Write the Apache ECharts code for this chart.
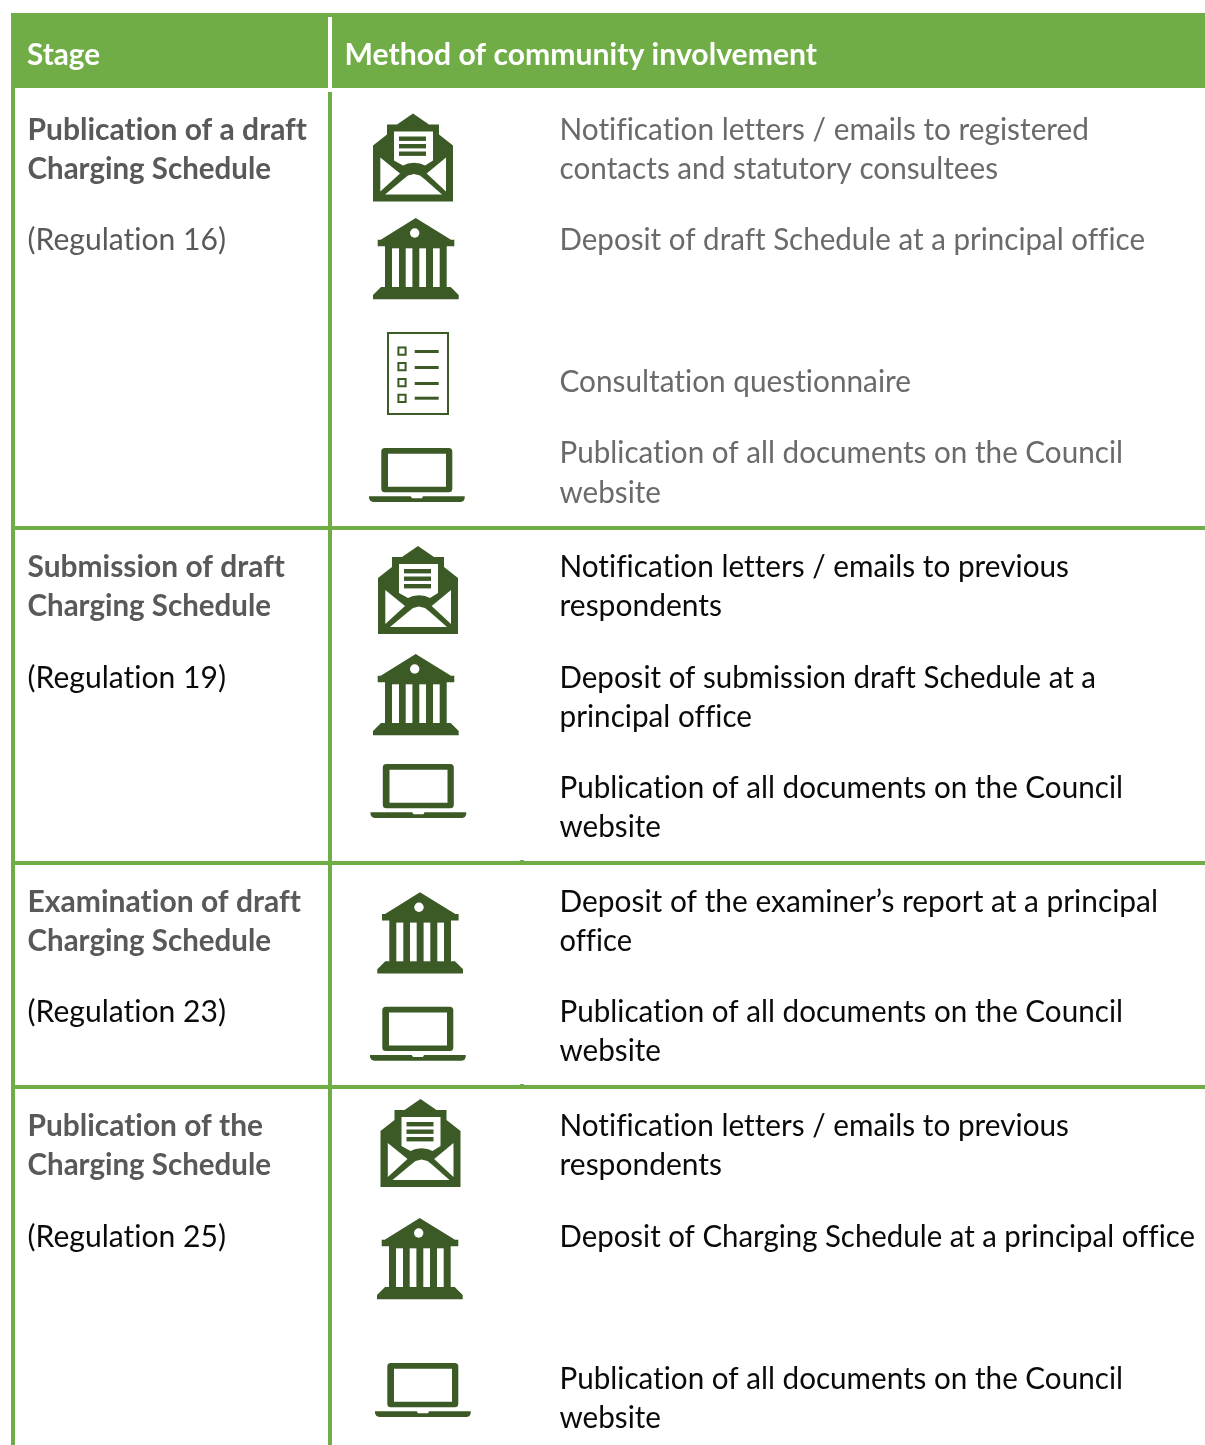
<!DOCTYPE html>
<html><head><meta charset="utf-8">
<style>html,body{margin:0;padding:0;background:#fff}#c{width:1205px;height:1445px}</style>
<script src="https://cdn.jsdelivr.net/npm/echarts@6/dist/echarts.min.js"></script>
</head><body><div id="c"></div>
<script>
// ---- content
const headers = ["Stage", "Method of community involvement"];
const stageTitles = [
  ["Publication of a draft", "Charging Schedule"],
  ["Submission of draft", "Charging Schedule"],
  ["Examination of draft", "Charging Schedule"],
  ["Publication of the", "Charging Schedule"]
];
const regulations = ["(Regulation 16)", "(Regulation 19)", "(Regulation 23)", "(Regulation 25)"];
const methods1 = [
  ["Notification letters / emails to registered", "contacts and statutory consultees"],
  ["Deposit of draft Schedule at a principal office"],
  ["Consultation questionnaire"],
  ["Publication of all documents on the Council", "website"]
];
const methods2 = [
  ["Notification letters / emails to previous", "respondents"],
  ["Deposit of submission draft Schedule at a", "principal office"],
  ["Publication of all documents on the Council", "website"]
];
const methods3 = [
  ["Deposit of the examiner\u2019s report at a principal", "office"],
  ["Publication of all documents on the Council", "website"]
];
const methods4 = [
  ["Notification letters / emails to previous", "respondents"],
  ["Deposit of Charging Schedule at a principal office"],
  ["Publication of all documents on the Council", "website"]
];
const methodGroups = [methods1, methods2, methods3, methods4];
const iconKinds = [
  ["mail", "bank", "list", "laptop"],
  ["mail", "bank", "laptop"],
  ["bank", "laptop"],
  ["mail", "bank", "laptop"]
];

// ---- layout
const stageBaselines = [[138, 177, 248], [575, 614, 686], [910, 949, 1020], [1134, 1173, 1245]];
const methodBaselines = [[138, 248, 390, 461], [575, 686, 796], [910, 1020], [1134, 1245, 1387]];
const iconOrigins = [
  [[373, 113.5], [373, 218], [387, 332], [369, 448]],
  [[378, 546], [373, 654], [370.5, 764]],
  [[377.3, 892.3], [370, 1006.7]],
  [[380.5, 1099], [377, 1218], [375, 1363]]
];
const ruleTops = [526, 861, 1085];
// right edge of each line of text in the reference, used to fit the substitute face
const rightEdges = {
  "Stage": 100, "Method of community involvement": 817,
  "Publication of a draft": 307, "Charging Schedule": 271, "Submission of draft": 285,
  "Examination of draft": 301, "Publication of the": 263,
  "(Regulation 16)": 226, "(Regulation 19)": 226, "(Regulation 23)": 226, "(Regulation 25)": 226,
  "Notification letters / emails to registered": 1089, "contacts and statutory consultees": 998,
  "Deposit of draft Schedule at a principal office": 1145, "Consultation questionnaire": 911,
  "Publication of all documents on the Council": 1123, "website": 661,
  "Notification letters / emails to previous": 1069, "respondents": 722,
  "Deposit of submission draft Schedule at a": 1096, "principal office": 752,
  "Deposit of the examiner\u2019s report at a principal": 1158, "office": 632,
  "Deposit of Charging Schedule at a principal office": 1195
};
const GREEN = "#70AD47", DARK = "#3B5A25";
const FONT = "Lato, Carlito, Calibri, sans-serif";
const SIZE = 29.9, LINE = 39, SHIFT = 8;

// no ligatures: the reference's face draws "ti" and "tt" as separate letters
const getCtx = HTMLCanvasElement.prototype.getContext;
HTMLCanvasElement.prototype.getContext = function () {
  const c = getCtx.apply(this, arguments);
  if (c && "textRendering" in c) c.textRendering = "optimizeSpeed";
  return c;
};
const measurer = document.createElement("canvas").getContext("2d");

const el = [];
const rect = (x, y, w, h, fill) => el.push({type:"rect", shape:{x, y, width:w, height:h}, style:{fill}, silent:true});
const text = (str, x, base, fill, weight) => {
  const font = `${weight||"normal"} ${SIZE}px ${FONT}`;
  measurer.font = font;
  const fit = (rightEdges[str] - x) / measurer.measureText(str).width;
  el.push({type:"text", silent:true, x, y: base - SHIFT, scaleX: fit,
    style:{text:str, fill, font, align:"left", verticalAlign:"middle"}});
};

// frame
rect(11, 13, 1194, 75, GREEN);
rect(328, 17, 4, 71, "#fff");
rect(11, 88, 4, 1357, GREEN);
rect(328, 92, 4, 1353, GREEN);
ruleTops.forEach(y => rect(15, y, 1190, 4, GREEN));
[861, 1085].forEach(y => rect(520, y - 1, 4, 1, GREEN));

// header
text(headers[0], 27, 63.5, "#fff", "bold");
text(headers[1], 344.5, 63.5, "#fff", "bold");

// icons, drawn in local pixels and placed at an origin
function icon(kind, ox, oy) {
  const D = {fill: DARK}, W = {fill: "#fff"};
  const p = (points, s) => ({type:"polygon", shape:{points}, style:s});
  const r = (x, y, w, h, s) => ({type:"rect", shape:{x, y, width:w, height:h}, style:s});
  let ch = [];
  if (kind === "mail") ch = [
    p([[40,0],[24,11],[14,11],[14,21],[0,32],[0,88],[80,88],[80,32],[66,21],[66,11],[56,11]], D),
    p([[21,18],[60,18],[60,47],[52,52],[47,50],[41,49.3],[35,50],[30,52],[21,47]], W),
    r(26,23,27,4.4,D), r(26,30.5,27,4.4,D), r(26,38,27,4.4,D),
    p([[7.3,44],[27,60],[7.3,78]], W), p([[73,44],[53.7,60],[73,78]], W),
    p([[12,81],[30,66],[35,62],[41,60.5],[47,62],[52,66],[69,81]], W)
  ];
  if (kind === "bank") ch = [
    p([[42.7,0],[78,21.7],[81.3,21.7],[81.3,28.3],[73.7,28.3],[73.7,69],[77.7,69],[85.7,77],[85.7,81.3],[0,81.3],[0,77],[8,69],[12,69],[12,28.3],[4.7,28.3],[4.7,21.7],[7.7,21.7]], D),
    r(19,30.3,7,38.7,W), r(32.7,30.3,6.7,38.7,W), r(46.3,30.3,6.7,38.7,W), r(60,30.3,6.7,38.7,W),
    {type:"circle", shape:{cx:41.7, cy:15, r:4.7}, style:W}
  ];
  if (kind === "laptop") ch = [
    {type:"rect", shape:{x:12.3,y:0,width:71,height:44.3,r:3.5}, style:D},
    r(19,5.7,58,33,W),
    p([[0,48.3],[41.7,48.3],[43,50.3],[53,50.3],[54,48.3],[95.7,48.3],[95.7,50.5],[94.5,53],[92,54],[4,54],[1.5,53],[0,50.5]], D)
  ];
  if (kind === "list") {
    ch = [{type:"rect", shape:{x:1,y:1,width:60,height:81}, style:{fill:"#fff", stroke:DARK, lineWidth:2}}];
    [15.5, 31, 47, 62.7].forEach(y => {
      ch.push({type:"rect", shape:{x:11.4,y:y,width:7.2,height:7.2}, style:{fill:"#fff", stroke:DARK, lineWidth:2}});
    });
    [18, 34, 50, 64.7].forEach(y => ch.push(r(27.7,y,24,3,D)));
  }
  el.push({type:"group", x:ox, y:oy, silent:true, children:ch});
}

// body
stageTitles.forEach((lines, i) => {
  const b = stageBaselines[i];
  lines.forEach((l, j) => text(l, 27.5, b[j], "#595959", "bold"));
  text(regulations[i], 27.5, b[2], i === 0 ? "#595959" : "#0a0a0a");
  const col = i === 0 ? "#6a6a6a" : "#0a0a0a";
  methodGroups[i].forEach((m, k) => {
    m.forEach((l, j) => text(l, 559.5, methodBaselines[i][k] + j * (LINE + (i === 0 && k === 3 ? 1 : 0)), col));
    icon(iconKinds[i][k], iconOrigins[i][k][0], iconOrigins[i][k][1]);
  });
});

const chart = echarts.init(document.getElementById("c"), null, {renderer:"canvas", width:1205, height:1445});
chart.setOption({backgroundColor:"#fff", animation:false, graphic:{elements:el}});
</script></body></html>
